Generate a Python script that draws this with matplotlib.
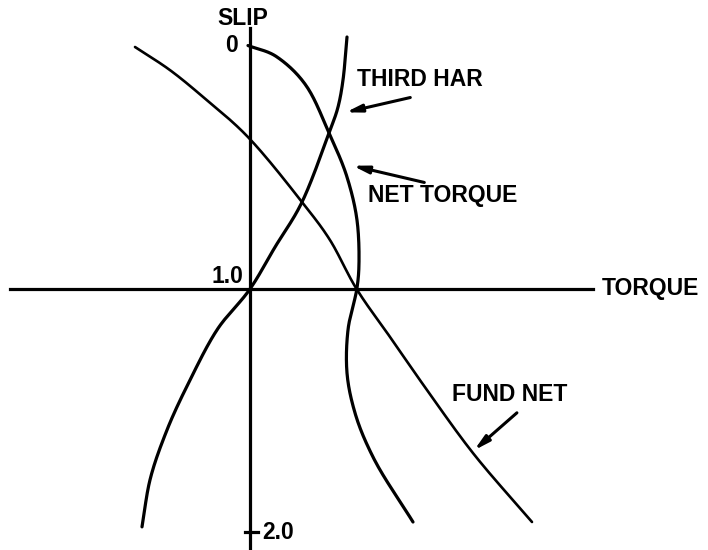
import matplotlib
matplotlib.use("Agg")
import matplotlib.pyplot as plt
import numpy as np

# torque (arbitrary units, 0 at slip axis) vs slip
fund_torque = [-1.15, -0.80, -0.47, -0.02, 0.52, 0.80, 1.06, 1.40, 1.77, 2.23, 2.82]
fund_slip = [0.006, 0.101, 0.211, 0.376, 0.643, 0.799, 0.996, 1.197, 1.415, 1.674, 1.957]

third_torque = [0.97, 0.93, 0.88, 0.79, 0.52, 0.25, 0.0, -0.33, -0.60, -0.83, -1.00, -1.08]
third_slip = [-0.035, 0.142, 0.253, 0.359, 0.643, 0.828, 1.0, 1.168, 1.374, 1.579, 1.784, 1.977]

net_torque = [-0.02, 0.27, 0.57, 0.79, 0.97, 1.07, 1.09, 1.07, 0.98, 0.97, 1.05, 1.23, 1.63]
net_slip = [0.0, 0.047, 0.170, 0.359, 0.540, 0.717, 0.893, 0.996, 1.168, 1.345, 1.509, 1.690, 1.957]

slip_ticks = [0.0, 1.0, 2.0]
slip_tick_labels = ["0", "1.0", "2.0"]


def smooth(xs, ys, n=25, alpha=0.5):
    # centripetal catmull-rom through the read points, only for a smooth pen line
    p = np.column_stack([xs, ys]).astype(float)
    p = np.vstack([2 * p[0] - p[1], p, 2 * p[-1] - p[-2]])
    out = []
    for i in range(1, len(p) - 2):
        p0, p1, p2, p3 = p[i - 1], p[i], p[i + 1], p[i + 2]
        t0 = 0.0
        t1 = t0 + np.linalg.norm(p1 - p0) ** alpha
        t2 = t1 + np.linalg.norm(p2 - p1) ** alpha
        t3 = t2 + np.linalg.norm(p3 - p2) ** alpha
        t = np.linspace(t1, t2, n, endpoint=False)[:, None]
        a1 = (t1 - t) / (t1 - t0) * p0 + (t - t0) / (t1 - t0) * p1
        a2 = (t2 - t) / (t2 - t1) * p1 + (t - t1) / (t2 - t1) * p2
        a3 = (t3 - t) / (t3 - t2) * p2 + (t - t2) / (t3 - t2) * p3
        b1 = (t2 - t) / (t2 - t0) * a1 + (t - t0) / (t2 - t0) * a2
        b2 = (t3 - t) / (t3 - t1) * a2 + (t - t1) / (t3 - t1) * a3
        out.append((t2 - t) / (t2 - t1) * b1 + (t - t1) / (t2 - t1) * b2)
    out.append(p[-2][None, :])
    out = np.vstack(out)
    return out[:, 0], out[:, 1]


fig = plt.figure(figsize=(7.08, 5.5), dpi=100)
ax = fig.add_axes([0, 0, 1, 1])
ax.set_xlim(-2.5, 4.58)
ax.set_ylim(2.072, -0.187)
ax.axis("off")

lw = 2.3
# axes
ax.plot([-2.40, 3.43], [1.0, 1.0], color="black", lw=lw)
ax.plot([0, 0], [-0.072, 2.08], color="black", lw=lw)
ax.plot([-0.05, 0.08], [2.0, 2.0], color="black", lw=lw)

ax.plot(*smooth(fund_torque, fund_slip), color="black", lw=1.9, solid_capstyle="round")
ax.plot(*smooth(third_torque, third_slip), color="black", lw=lw, solid_capstyle="round")
ax.plot(*smooth(net_torque, net_slip), color="black", lw=lw, solid_capstyle="round")

font = dict(family="Liberation Sans", weight="bold", size=16.5, color="black")
ax.text(-0.07, -0.113, "SLIP", ha="center", va="center", **font)
ax.text(3.52, 1.0, "TORQUE", ha="left", va="center", **font)
ax.text(-0.12, slip_ticks[0], slip_tick_labels[0], ha="right", va="center", **font)
ax.text(-0.07, slip_ticks[1] - 0.05, slip_tick_labels[1], ha="right", va="center", **font)
ax.text(0.12, slip_ticks[2], slip_tick_labels[2], ha="left", va="center", **font)

arrow = dict(arrowstyle="-|>,head_length=0.9,head_width=0.22", color="black", lw=2.2)
ax.annotate("", xy=(0.93, 0.277), xytext=(1.63, 0.211), arrowprops=arrow)
ax.text(1.07, 0.138, "THIRD HAR", ha="left", va="center", **font)
ax.annotate("", xy=(1.00, 0.491), xytext=(1.77, 0.565), arrowprops=arrow)
ax.text(1.18, 0.618, "NET TORQUE", ha="left", va="center", **font)
ax.annotate("", xy=(2.22, 1.67), xytext=(2.69, 1.501), arrowprops=arrow)
ax.text(2.02, 1.435, "FUND NET", ha="left", va="center", **font)

fig.savefig("out.png", dpi=100)
